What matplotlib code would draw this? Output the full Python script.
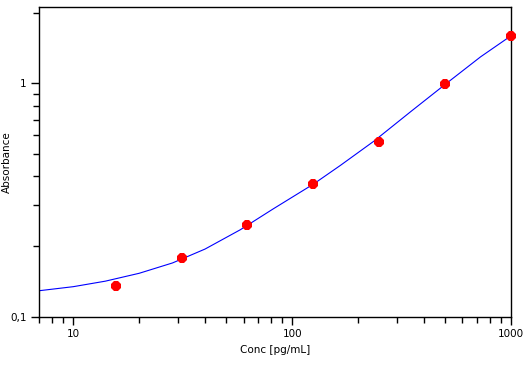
import matplotlib
matplotlib.use("Agg")
import matplotlib.pyplot as plt
from matplotlib.ticker import FixedLocator, FixedFormatter, NullFormatter

# Standards (measured points)
conc = [15.625, 31.25, 62.5, 125, 250, 500, 1000]
absorbance = [0.1354, 0.1784, 0.247, 0.371, 0.560, 0.995, 1.60]

# Fitted curve
curve_x = [6.97, 10, 14, 20, 28.4, 40, 58, 82, 125, 166, 236, 350, 502, 726, 1000]
curve_y = [0.1292, 0.1345, 0.142, 0.1535, 0.170, 0.195, 0.236, 0.290, 0.370,
           0.445, 0.565, 0.760, 0.993, 1.30, 1.60]

x_major = [10, 100, 1000]
x_major_labels = ["10", "100", "1000"]
y_major = [0.1, 1]
y_major_labels = ["0,1", "1"]

fig = plt.figure(figsize=(5.29, 3.67), dpi=100)
ax = fig.add_axes([39/529, 1 - 316.7/367, (511-39)/529, (316.7-7.3)/367])

ax.plot(curve_x, curve_y, color="#0000ff", lw=0.8, zorder=2)
ax.plot(conc, absorbance, linestyle="none", marker="8", markersize=7.6,
        markeredgewidth=0, color="#ff0000", clip_on=False, zorder=3)

ax.set_xscale("log")
ax.set_yscale("log")
ax.set_xlim(6.97, 1000)
ax.set_ylim(0.1, 2.12)

ax.xaxis.set_major_locator(FixedLocator(x_major))
ax.xaxis.set_major_formatter(FixedFormatter(x_major_labels))
ax.xaxis.set_minor_locator(FixedLocator([7, 8, 9, 20, 30, 40, 50, 60, 70, 80, 90,
                                         200, 300, 400, 500, 600, 700, 800, 900]))
ax.xaxis.set_minor_formatter(NullFormatter())
ax.yaxis.set_major_locator(FixedLocator(y_major))
ax.yaxis.set_major_formatter(FixedFormatter(y_major_labels))
ax.yaxis.set_minor_locator(FixedLocator([0.2, 0.3, 0.4, 0.5, 0.6, 0.7, 0.8, 0.9, 2]))
ax.yaxis.set_minor_formatter(NullFormatter())

ax.tick_params(axis="both", which="major", length=6, width=1, labelsize=7.5, pad=3, color="black")
ax.tick_params(axis="both", which="minor", length=4, width=1, color="black")
ax.tick_params(top=False, right=False, which="both")

for s in ax.spines.values():
    s.set_linewidth(1)
    s.set_color("black")

ax.set_xlabel("Conc [pg/mL]", fontsize=7.5, labelpad=4)
ax.set_ylabel("Absorbance", fontsize=7.5)
ax.yaxis.set_label_coords(-27/472, 0.5)

fig.savefig("out.png", dpi=100)
